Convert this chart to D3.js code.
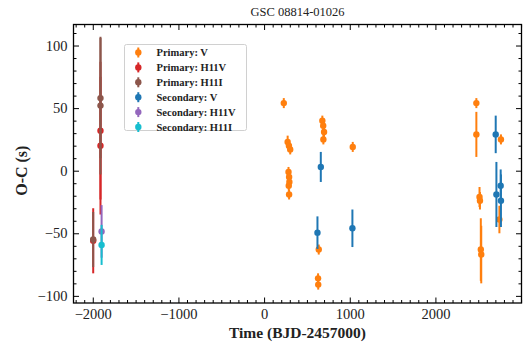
<!DOCTYPE html>
<html>
<head>
<meta charset="utf-8">
<script src="https://cdn.jsdelivr.net/npm/d3@7"></script>
<style>
  body { margin: 0; background: #fff; }
  svg text { font-family: "Liberation Serif", "DejaVu Serif", serif; }
</style>
</head>
<body>
<div id="chart"></div>
<script>
// data: time (BJD-2457000), O-C (s), error (s)
const primaryV_t = [230, 275, 290, 305, 285, 292, 295, 288, 292, 630, 632, 638, 680, 690, 700, 692, 1035, 2478, 2478, 2515, 2520, 2530, 2535, 2747, 2765]
const primaryV_oc = [54, 23, 20, 17, -1, -5, -9, -12, -19, -86, -91, -63, 40, 36, 31, 25, 19, 54, 29, -21, -24, -63, -67, -39, 25]
const primaryV_err = [4, 5, 4, 4, 4, 4, 4, 4, 4, 4, 4, 4, 4, 4, 4, 4, 4, 4, 18, 8, 7, 25, 23, 11, 4]

const primaryH11V_t = [-1995, -1910, -1910]
const primaryH11V_oc = [-56, 32, 20]
const primaryH11V_err = [26, 55, 55]

const primaryH11I_t = [-1995, -1910, -1910]
const primaryH11I_oc = [-55, 58, 52]
const primaryH11I_err = [22, 48, 55]

const secondaryV_t = [623, 662, 1031, 2704, 2712, 2762, 2765]
const secondaryV_oc = [-49.5, 3, -46, 29, -19, -12, -24]
const secondaryV_err = [13, 12, 15, 15, 26, 13, 21]

const secondaryH11V_t = [-1897]
const secondaryH11V_oc = [-48.5]
const secondaryH11V_err = [21]

const secondaryH11I_t = [-1897]
const secondaryH11I_oc = [-59.3]
const secondaryH11I_err = [16]

const xMajor = [-2000, -1000, 0, 1000, 2000]
const yMajor = [-100, -50, 0, 50, 100]

const series = [
  { name: 'Primary: V', color: '#ff7f0e', t: primaryV_t, oc: primaryV_oc, err: primaryV_err },
  { name: 'Primary: H11V', color: '#d62728', t: primaryH11V_t, oc: primaryH11V_oc, err: primaryH11V_err },
  { name: 'Primary: H11I', color: '#8c564b', t: primaryH11I_t, oc: primaryH11I_oc, err: primaryH11I_err },
  { name: 'Secondary: V', color: '#1f77b4', t: secondaryV_t, oc: secondaryV_oc, err: secondaryV_err },
  { name: 'Secondary: H11V', color: '#9467bd', t: secondaryH11V_t, oc: secondaryH11V_oc, err: secondaryH11V_err },
  { name: 'Secondary: H11I', color: '#17becf', t: secondaryH11I_t, oc: secondaryH11I_oc, err: secondaryH11I_err }
]

// sizes
const W = 525
const H = 342
const margin = { top: 24.5, right: 3.5, bottom: 39, left: 73.5 }
const width = W - margin.left - margin.right
const height = H - margin.top - margin.bottom

const svg = d3.select('#chart').append('svg')
  .attr('width', W)
  .attr('height', H)

const g = svg.append('g')
  .attr('transform', `translate(${margin.left},${margin.top})`)

const x = d3.scaleLinear().domain([-2225, 3005]).range([0, width])
const y = d3.scaleLinear().domain([-105.7, 116.8]).range([height, 0])

const xMinor = d3.range(-2200, 3001, 100).filter(v => !xMajor.includes(v))
const yMinor = d3.range(-100, 111, 10).filter(v => !yMajor.includes(v))
const fmt = d => d < 0 ? '\u2212' + Math.abs(d) : String(d)

// inward ticks on every side
function tickAxis (axisFn, scale, major, minor, labels) {
  const a = g.append('g')
  a.append('g').call(axisFn(scale).tickValues(minor).tickSize(-3).tickFormat(''))
  a.append('g').call(axisFn(scale).tickValues(major).tickSize(-5.5).tickPadding(6)
    .tickFormat(labels ? fmt : ''))
  a.selectAll('.domain').remove()
  a.selectAll('line').attr('stroke', '#000').attr('stroke-width', 1)
  a.selectAll('text').attr('font-size', 14.5).attr('fill', '#222')
  return a
}
tickAxis(d3.axisBottom, x, xMajor, xMinor, true).attr('transform', `translate(0,${height})`)
tickAxis(d3.axisTop, x, xMajor, xMinor, false)
tickAxis(d3.axisLeft, y, yMajor, yMinor, true)
tickAxis(d3.axisRight, y, yMajor, yMinor, false).attr('transform', `translate(${width},0)`)

// points with error bars
const plot = g.append('g')
series.forEach(s => {
  const pts = s.t.map((t, i) => ({ t: t, oc: s.oc[i], err: s.err[i] }))
  const sg = plot.append('g')
  sg.selectAll('line').data(pts).enter().append('line')
    .attr('x1', d => x(d.t)).attr('x2', d => x(d.t))
    .attr('y1', d => y(d.oc - d.err)).attr('y2', d => y(d.oc + d.err))
    .attr('stroke', s.color).attr('stroke-width', 2)
  sg.selectAll('circle').data(pts).enter().append('circle')
    .attr('cx', d => x(d.t)).attr('cy', d => y(d.oc))
    .attr('r', 3.2)
    .attr('fill', s.color)
})

// frame
g.append('rect')
  .attr('width', width).attr('height', height)
  .attr('fill', 'none').attr('stroke', '#000').attr('stroke-width', 1.3)

// legend
const legend = g.append('g').attr('transform', 'translate(51,20)')
legend.append('rect')
  .attr('width', 122).attr('height', 86).attr('rx', 2)
  .attr('fill', '#fff').attr('fill-opacity', 0.8)
  .attr('stroke', '#d0d0d0').attr('stroke-width', 1)
series.forEach((s, i) => {
  const ly = 8 + i * 14.9
  legend.append('line')
    .attr('x1', 13.8).attr('x2', 13.8).attr('y1', ly - 5).attr('y2', ly + 5)
    .attr('stroke', s.color).attr('stroke-width', 2)
  legend.append('circle').attr('cx', 13.8).attr('cy', ly).attr('r', 3.2).attr('fill', s.color)
  legend.append('text')
    .attr('x', 32).attr('y', ly).attr('dy', '0.35em')
    .attr('font-size', 10.5).attr('font-weight', 'bold').attr('fill', '#222')
    .text(s.name)
})

// labels
svg.append('text')
  .attr('x', margin.left + width / 2).attr('y', 16)
  .attr('text-anchor', 'middle').attr('font-size', 12.5).attr('fill', '#222')
  .text('GSC 08814-01026')

svg.append('text')
  .attr('x', margin.left + width / 2).attr('y', 338)
  .attr('text-anchor', 'middle').attr('font-size', 15.5).attr('font-weight', 'bold').attr('fill', '#222')
  .text('Time (BJD-2457000)')

svg.append('text')
  .attr('transform', `translate(27,${margin.top + y(0)}) rotate(-90)`)
  .attr('text-anchor', 'middle').attr('font-size', 16).attr('font-weight', 'bold').attr('fill', '#222')
  .text('O-C (s)')
</script>
</body>
</html>
